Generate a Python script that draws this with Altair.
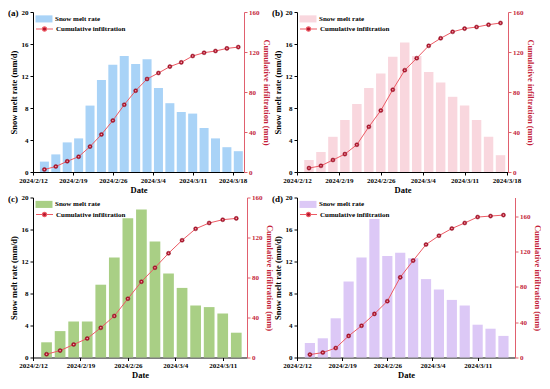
import altair as alt
import pandas as pd

FONT = "Liberation Serif"
RED_LINE = "#EC5A64"
RED_AXIS = "#E0606E"
RED_TEXT = "#C41E3A"
MARK_FILL = "#B3152D"
MARK_STROKE = "#7E0B1D"
MARK_HILITE = "#F2AAB2"

# ---------------- data ----------------
dates_a = ["2024-02-14", "2024-02-16", "2024-02-18", "2024-02-20", "2024-02-22",
           "2024-02-24", "2024-02-26", "2024-02-28", "2024-03-01", "2024-03-03",
           "2024-03-05", "2024-03-07", "2024-03-09", "2024-03-11", "2024-03-13",
           "2024-03-15", "2024-03-17", "2024-03-19"]
melt_a = [1.3, 2.2, 3.7, 4.2, 8.3, 11.5, 13.4, 14.5, 13.5, 14.1, 10.5, 8.6, 7.5, 7.3, 5.5, 4.2, 3.1, 2.6]
cum_a = [2.5, 5.5, 10.7, 15.3, 25.4, 37.5, 51.5, 67.3, 81.3, 93.0, 99.0, 105.4, 109.6, 116.0, 119.3, 121.0, 123.6, 124.9]

dates_b = ["2024-02-14", "2024-02-16", "2024-02-18", "2024-02-20", "2024-02-22",
           "2024-02-24", "2024-02-26", "2024-02-28", "2024-03-01", "2024-03-03",
           "2024-03-05", "2024-03-07", "2024-03-09", "2024-03-11", "2024-03-13",
           "2024-03-15", "2024-03-17"]
melt_b = [1.5, 2.5, 4.4, 6.5, 8.5, 10.5, 12.3, 14.4, 16.2, 14.5, 12.5, 11.2, 9.4, 8.3, 6.5, 4.4, 2.1]
cum_b = [3.9, 6.2, 12.0, 17.9, 27.3, 45.2, 61.5, 82.3, 101.8, 113.8, 126.2, 133.7, 140.2, 143.4, 145.0, 147.3, 149.0]

dates_c = ["2024-02-14", "2024-02-16", "2024-02-18", "2024-02-20", "2024-02-22",
           "2024-02-24", "2024-02-26", "2024-02-28", "2024-03-01", "2024-03-03",
           "2024-03-05", "2024-03-07", "2024-03-09", "2024-03-11", "2024-03-13"]
melt_c = [1.9, 3.3, 4.5, 4.5, 9.1, 12.5, 17.4, 18.5, 14.5, 10.5, 8.7, 6.5, 6.3, 5.5, 3.1]
cum_c = [3.3, 6.9, 13.0, 19.0, 29.7, 41.5, 58.8, 75.8, 89.8, 104.2, 117.2, 128.7, 134.5, 137.8, 139.1]

dates_d = ["2024-02-14", "2024-02-16", "2024-02-18", "2024-02-20", "2024-02-22",
           "2024-02-24", "2024-02-26", "2024-02-28", "2024-03-01", "2024-03-03",
           "2024-03-05", "2024-03-07", "2024-03-09", "2024-03-11", "2024-03-13",
           "2024-03-15"]
melt_d = [1.8, 2.4, 4.9, 9.5, 12.5, 17.3, 12.7, 13.1, 12.4, 9.8, 8.5, 7.2, 6.5, 4.1, 3.6, 2.7]
cum_d = [3.3, 5.6, 10.7, 24.4, 35.9, 49.3, 63.7, 90.7, 109.6, 127.8, 137.8, 145.9, 152.2, 158.9, 160.0, 161.1]

panel_labels = ["(a)", "(b)", "(c)", "(d)"]
tick_dates = ["2024-02-12", "2024-02-19", "2024-02-26", "2024-03-04", "2024-03-11", "2024-03-18"]
melt_ticks = [0, 4, 8, 12, 16, 20]
cum_ticks = [0, 40, 80, 120, 160]

RECT_PATH = "M-1.2,-0.5H1.2V0.5H-1.2Z"
LINE_PATH = "M-1.2,0H-0.3M0.3,0H1.2M0.3,0A0.3,0.3,0,1,1,-0.3,0A0.3,0.3,0,1,1,0.3,0"

H = 160


def dt(s, hours=0):
    y, m, d = (int(v) for v in s.split("-"))
    return alt.DateTime(year=y, month=m, date=d, hours=hours, utc=True)


def panel(label, dates, melt, cum, bar_color, x_end, x_end_hours, cum_max, width):
    df = pd.DataFrame({"date": dates, "melt": melt, "cum": cum})
    df["s1"] = "Snow melt rate"
    df["s2"] = "Cumulative infiltration"
    ticks = [dt(t) for t in tick_dates if t <= x_end]
    xscale = alt.Scale(type="utc", domain=[dt("2024-02-12"), dt(x_end, x_end_hours)])
    xaxis = alt.Axis(values=ticks, format="%Y/%-m/%-d", title="Date", labelAngle=0,
                     labelFlush=False, labelOverlap=False, labelPadding=1, titlePadding=2)
    left_axis = alt.Axis(values=melt_ticks, title="Snow melt rate (mm/d)", orient="left",
                         titlePadding=3, labelPadding=2)
    right_axis = alt.Axis(values=cum_ticks, title="Cumulative infiltration (mm)", orient="right",
                          domainColor=RED_AXIS, tickColor=RED_AXIS, labelColor=RED_TEXT,
                          titleColor=RED_TEXT, titlePadding=2, labelPadding=1.5)
    bar_legend = alt.Legend(title=None, orient="none", legendX=3.5, legendY=-0.6,
                            symbolType=RECT_PATH, symbolSize=200, labelOffset=3.5,
                            symbolStrokeWidth=0)
    line_legend = alt.Legend(title=None, orient="none", legendX=3.5, legendY=9,
                             symbolType=LINE_PATH, symbolSize=200, labelOffset=3.5,
                             symbolStrokeWidth=1.1, symbolFillColor=MARK_FILL)

    bars = alt.Chart(df).transform_calculate(
        x0="toDate(datum.date) - 0.79*86400000",
        x1="toDate(datum.date) + 0.79*86400000",
    ).mark_bar().encode(
        x=alt.X("x0:T", scale=xscale, axis=xaxis),
        x2="x1:T",
        y=alt.Y("melt:Q", scale=alt.Scale(domain=[0, 20]), axis=left_axis),
        y2=alt.datum(0),
        color=alt.Color("s1:N", scale=alt.Scale(range=[bar_color]), legend=bar_legend),
    )
    ydef = alt.Y("cum:Q", scale=alt.Scale(domain=[0, cum_max]), axis=right_axis)
    xdef = alt.X("date:T", scale=xscale, axis=xaxis)
    line = alt.Chart(df).mark_line(strokeWidth=1).encode(
        x=xdef, y=ydef,
        color=alt.Color("s2:N", scale=alt.Scale(range=[RED_LINE]), legend=line_legend),
    )
    pts = alt.Chart(df).mark_point(filled=True, size=17, fill=MARK_FILL, stroke=MARK_STROKE,
                                   strokeWidth=0.4, opacity=1).encode(x=xdef, y=ydef)
    hil = alt.Chart(df).mark_point(filled=True, size=2.5, fill=MARK_HILITE, opacity=1,
                                   dx=-0.6, dy=-0.7).encode(x=xdef, y=ydef)
    tag = alt.Chart(pd.DataFrame({"label": [label]})).mark_text(
        align="left", baseline="middle", font=FONT, fontSize=9, fontWeight="bold", color="black"
    ).encode(x=alt.value(-25), y=alt.value(1), text="label:N")
    return alt.layer(bars, alt.layer(line, pts, hil), tag).resolve_scale(
        y="independent", color="independent"
    ).properties(width=width, height=H)


pa = panel(panel_labels[0], dates_a, melt_a, cum_a, "#A9D3F7", "2024-03-20", 0, 160, 211)
pb = panel(panel_labels[1], dates_b, melt_b, cum_b, "#F9D7DE", "2024-03-18", 6, 160, 211)
pc = panel(panel_labels[2], dates_c, melt_c, cum_c, "#A9CF85", "2024-03-14", 14, 160, 214)
pd_ = panel(panel_labels[3], dates_d, melt_d, cum_d, "#DCC8F6", "2024-03-16", 19, 181, 218)

chart = alt.concat(
    pa, pb, pc, pd_, columns=2, spacing={"row": 25.5, "column": 50}, bounds="flush", align="each"
).resolve_scale(
    color="independent", x="independent", y="independent"
).resolve_legend(color="independent").properties(padding=0).configure_view(
    stroke=None
).configure_axis(
    labelFont=FONT, titleFont=FONT, labelFontWeight="bold", titleFontWeight="bold",
    labelFontSize=7, titleFontSize=8.5, grid=False, tickSize=3, domainColor="black",
    tickColor="black", labelColor="black", titleColor="black", domainWidth=1, tickWidth=1,
).configure_legend(
    labelFont=FONT, labelFontWeight="bold", labelFontSize=7, labelColor="black", padding=0,
)

chart.save("out.html", embed_options={"renderer": "svg", "actions": False})
